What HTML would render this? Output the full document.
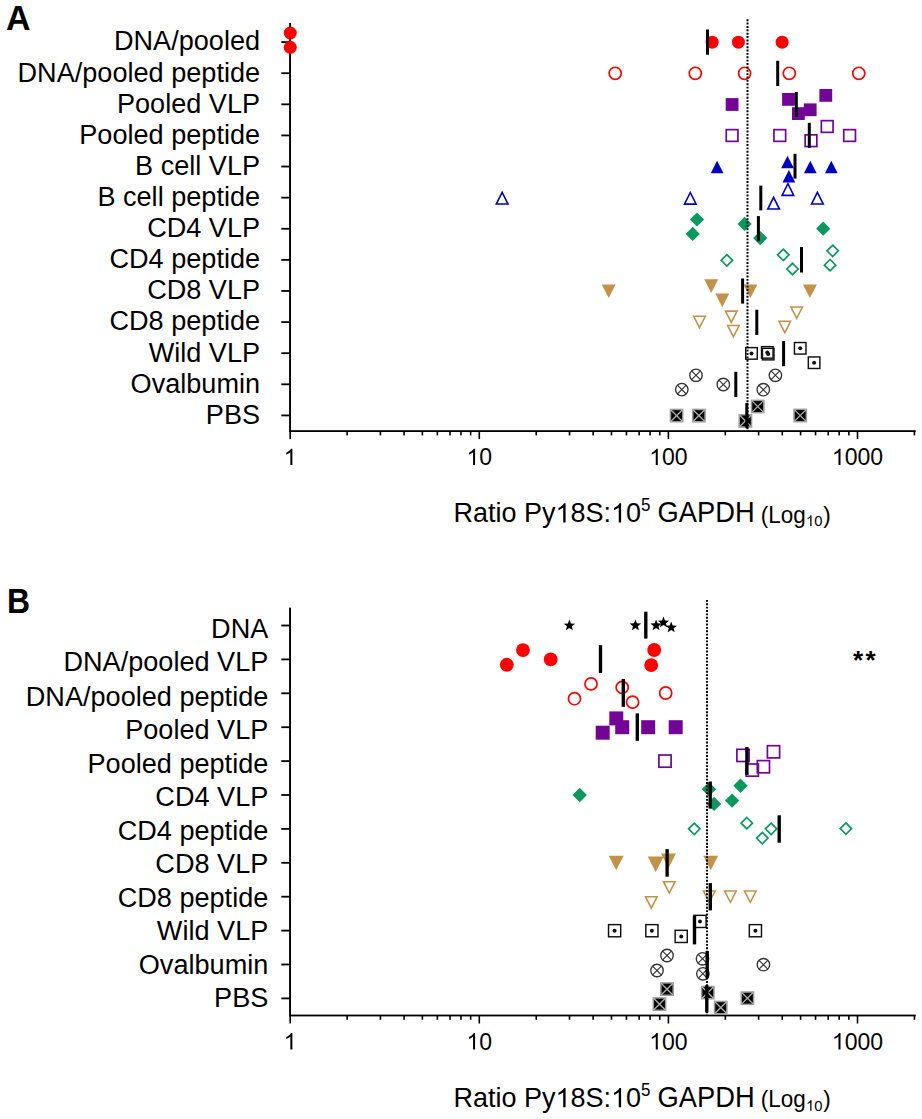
<!DOCTYPE html>
<html><head><meta charset="utf-8"><style>html,body{margin:0;padding:0;background:#fff;}svg{display:block;}text{font-family:"Liberation Sans",sans-serif;}</style></head>
<body><svg width="922" height="1119" viewBox="0 0 922 1119">
<rect width="922" height="1119" fill="#fff"/>
<text x="6" y="29.9" font-size="34" transform="matrix(1 0 0 1.035 0 -1.05)" font-weight="bold" >A</text>
<text x="6.9" y="612.9" font-size="31.9" transform="matrix(1 0 0 1.08 0 -49.03)" font-weight="bold" >B</text>
<rect x="289.1" y="22.9" width="1.9" height="409.2" fill="#000"/>
<rect x="281.3" y="41.2" width="8.9" height="1.8" fill="#000"/>
<text x="260.1" y="50.4" font-size="27.1" transform="matrix(1 0 0 1.025 0 -1.26)" text-anchor="end" >DNA/pooled</text>
<rect x="281.3" y="72.31" width="8.9" height="1.8" fill="#000"/>
<text x="260.1" y="81.52" font-size="27.1" transform="matrix(1 0 0 1.025 0 -2.04)" text-anchor="end" >DNA/pooled peptide</text>
<rect x="281.3" y="103.42" width="8.9" height="1.8" fill="#000"/>
<text x="260.1" y="112.64" font-size="27.1" transform="matrix(1 0 0 1.025 0 -2.82)" text-anchor="end" >Pooled VLP</text>
<rect x="281.3" y="134.53" width="8.9" height="1.8" fill="#000"/>
<text x="260.1" y="143.76" font-size="27.1" transform="matrix(1 0 0 1.025 0 -3.59)" text-anchor="end" >Pooled peptide</text>
<rect x="281.3" y="165.64" width="8.9" height="1.8" fill="#000"/>
<text x="260.1" y="174.88" font-size="27.1" transform="matrix(1 0 0 1.025 0 -4.37)" text-anchor="end" >B cell VLP</text>
<rect x="281.3" y="196.75" width="8.9" height="1.8" fill="#000"/>
<text x="260.1" y="206" font-size="27.1" transform="matrix(1 0 0 1.025 0 -5.15)" text-anchor="end" >B cell peptide</text>
<rect x="281.3" y="227.86" width="8.9" height="1.8" fill="#000"/>
<text x="260.1" y="237.12" font-size="27.1" transform="matrix(1 0 0 1.025 0 -5.93)" text-anchor="end" >CD4 VLP</text>
<rect x="281.3" y="258.97" width="8.9" height="1.8" fill="#000"/>
<text x="260.1" y="268.24" font-size="27.1" transform="matrix(1 0 0 1.025 0 -6.71)" text-anchor="end" >CD4 peptide</text>
<rect x="281.3" y="290.08" width="8.9" height="1.8" fill="#000"/>
<text x="260.1" y="299.36" font-size="27.1" transform="matrix(1 0 0 1.025 0 -7.48)" text-anchor="end" >CD8 VLP</text>
<rect x="281.3" y="321.19" width="8.9" height="1.8" fill="#000"/>
<text x="260.1" y="330.48" font-size="27.1" transform="matrix(1 0 0 1.025 0 -8.26)" text-anchor="end" >CD8 peptide</text>
<rect x="281.3" y="352.3" width="8.9" height="1.8" fill="#000"/>
<text x="260.1" y="361.6" font-size="27.1" transform="matrix(1 0 0 1.025 0 -9.04)" text-anchor="end" >Wild VLP</text>
<rect x="281.3" y="383.41" width="8.9" height="1.8" fill="#000"/>
<text x="260.1" y="392.72" font-size="27.1" transform="matrix(1 0 0 1.025 0 -9.82)" text-anchor="end" >Ovalbumin</text>
<rect x="281.3" y="414.52" width="8.9" height="1.8" fill="#000"/>
<text x="260.1" y="423.84" font-size="27.1" transform="matrix(1 0 0 1.025 0 -10.6)" text-anchor="end" >PBS</text>
<rect x="289.3" y="430.2" width="626.4" height="1.8" fill="#000"/>
<rect x="289.4" y="431.1" width="1.6" height="8" fill="#000"/>
<rect x="346.32" y="431.1" width="1.6" height="4.3" fill="#000"/>
<rect x="379.62" y="431.1" width="1.6" height="4.3" fill="#000"/>
<rect x="403.25" y="431.1" width="1.6" height="4.3" fill="#000"/>
<rect x="421.58" y="431.1" width="1.6" height="4.3" fill="#000"/>
<rect x="436.55" y="431.1" width="1.6" height="4.3" fill="#000"/>
<rect x="449.21" y="431.1" width="1.6" height="4.3" fill="#000"/>
<rect x="460.17" y="431.1" width="1.6" height="4.3" fill="#000"/>
<rect x="469.85" y="431.1" width="1.6" height="4.3" fill="#000"/>
<rect x="478.5" y="431.1" width="1.6" height="8" fill="#000"/>
<rect x="535.42" y="431.1" width="1.6" height="4.3" fill="#000"/>
<rect x="568.72" y="431.1" width="1.6" height="4.3" fill="#000"/>
<rect x="592.35" y="431.1" width="1.6" height="4.3" fill="#000"/>
<rect x="610.68" y="431.1" width="1.6" height="4.3" fill="#000"/>
<rect x="625.65" y="431.1" width="1.6" height="4.3" fill="#000"/>
<rect x="638.31" y="431.1" width="1.6" height="4.3" fill="#000"/>
<rect x="649.27" y="431.1" width="1.6" height="4.3" fill="#000"/>
<rect x="658.95" y="431.1" width="1.6" height="4.3" fill="#000"/>
<rect x="667.6" y="431.1" width="1.6" height="8" fill="#000"/>
<rect x="724.52" y="431.1" width="1.6" height="4.3" fill="#000"/>
<rect x="757.82" y="431.1" width="1.6" height="4.3" fill="#000"/>
<rect x="781.45" y="431.1" width="1.6" height="4.3" fill="#000"/>
<rect x="799.78" y="431.1" width="1.6" height="4.3" fill="#000"/>
<rect x="814.75" y="431.1" width="1.6" height="4.3" fill="#000"/>
<rect x="827.41" y="431.1" width="1.6" height="4.3" fill="#000"/>
<rect x="838.37" y="431.1" width="1.6" height="4.3" fill="#000"/>
<rect x="848.05" y="431.1" width="1.6" height="4.3" fill="#000"/>
<rect x="856.7" y="431.1" width="1.6" height="8" fill="#000"/>
<rect x="913.62" y="431.1" width="1.6" height="4.3" fill="#000"/>
<text x="283.8" y="465.1" font-size="23.0" > </text>
<path transform="translate(283.8 465.1) scale(0.01123 -0.01123)" d="M763 0L583 0L583 1147C540 1106 483 1064 413 1023C343 982 280 951 223 930L223 1104C323 1151 411 1208 486 1276C561 1344 614 1407 645 1466L763 1466Z" fill="#000"/>
<text x="466.51" y="465.1" font-size="23.0" > 0</text>
<path transform="translate(466.51 465.1) scale(0.01123 -0.01123)" d="M763 0L583 0L583 1147C540 1106 483 1064 413 1023C343 982 280 951 223 930L223 1104C323 1151 411 1208 486 1276C561 1344 614 1407 645 1466L763 1466Z" fill="#000"/>
<text x="649.21" y="465.1" font-size="23.0" > 00</text>
<path transform="translate(649.21 465.1) scale(0.01123 -0.01123)" d="M763 0L583 0L583 1147C540 1106 483 1064 413 1023C343 982 280 951 223 930L223 1104C323 1151 411 1208 486 1276C561 1344 614 1407 645 1466L763 1466Z" fill="#000"/>
<text x="831.92" y="465.1" font-size="23.0" > 000</text>
<path transform="translate(831.92 465.1) scale(0.01123 -0.01123)" d="M763 0L583 0L583 1147C540 1106 483 1064 413 1023C343 982 280 951 223 930L223 1104C323 1151 411 1208 486 1276C561 1344 614 1407 645 1466L763 1466Z" fill="#000"/>
<text x="453.5" y="522.5" font-size="27.0" transform="matrix(1 0 0 1.05 0 -26.13)"  >Ratio Py 8S: 0</text>
<path transform="translate(555.53 522.5) scale(0.01318 -0.01318)" d="M763 0L583 0L583 1147C540 1106 483 1064 413 1023C343 982 280 951 223 930L223 1104C323 1151 411 1208 486 1276C561 1344 614 1407 645 1466L763 1466Z" fill="#000"/>
<path transform="translate(611.06 522.5) scale(0.01318 -0.01318)" d="M763 0L583 0L583 1147C540 1106 483 1064 413 1023C343 982 280 951 223 930L223 1104C323 1151 411 1208 486 1276C561 1344 614 1407 645 1466L763 1466Z" fill="#000"/>
<text x="641" y="511.1" font-size="17" transform="matrix(1 0 0 1.04 0 -20.44)"  >5</text>
<text x="657.6" y="522.5" font-size="27.3" transform="matrix(1 0 0 1.05 0 -26.13)"  >GAPDH</text>
<text x="760.8" y="522.7" font-size="22.5" transform="matrix(1 0 0 1.04 0 -20.91)"  >(Log</text>
<text x="806" y="525.9" font-size="14.8" > 0</text>
<path transform="translate(806 525.9) scale(0.00723 -0.00723)" d="M763 0L583 0L583 1147C540 1106 483 1064 413 1023C343 982 280 951 223 930L223 1104C323 1151 411 1208 486 1276C561 1344 614 1407 645 1466L763 1466Z" fill="#000"/>
<text x="823.2" y="522.7" font-size="22.5" transform="matrix(1 0 0 1.04 0 -20.91)"  >)</text>
<rect x="289.1" y="607.6" width="1.9" height="408.9" fill="#000"/>
<rect x="281.3" y="624.6" width="8.9" height="1.8" fill="#000"/>
<text x="268.3" y="637.6" font-size="27.1" transform="matrix(1 0 0 1.025 0 -15.94)" text-anchor="end" >DNA</text>
<rect x="281.3" y="658.5" width="8.9" height="1.8" fill="#000"/>
<text x="268.3" y="671.5" font-size="27.1" transform="matrix(1 0 0 1.025 0 -16.79)" text-anchor="end" >DNA/pooled VLP</text>
<rect x="281.3" y="692.4" width="8.9" height="1.8" fill="#000"/>
<text x="268.3" y="705.8" font-size="27.1" transform="matrix(1 0 0 1.025 0 -17.64)" text-anchor="end" >DNA/pooled peptide</text>
<rect x="281.3" y="726.3" width="8.9" height="1.8" fill="#000"/>
<text x="268.3" y="739.3" font-size="27.1" transform="matrix(1 0 0 1.025 0 -18.48)" text-anchor="end" >Pooled VLP</text>
<rect x="281.3" y="760.2" width="8.9" height="1.8" fill="#000"/>
<text x="268.3" y="772.8" font-size="27.1" transform="matrix(1 0 0 1.025 0 -19.32)" text-anchor="end" >Pooled peptide</text>
<rect x="281.3" y="794.1" width="8.9" height="1.8" fill="#000"/>
<text x="268.3" y="806.5" font-size="27.1" transform="matrix(1 0 0 1.025 0 -20.16)" text-anchor="end" >CD4 VLP</text>
<rect x="281.3" y="828" width="8.9" height="1.8" fill="#000"/>
<text x="268.3" y="839.6" font-size="27.1" transform="matrix(1 0 0 1.025 0 -20.99)" text-anchor="end" >CD4 peptide</text>
<rect x="281.3" y="861.9" width="8.9" height="1.8" fill="#000"/>
<text x="268.3" y="873" font-size="27.1" transform="matrix(1 0 0 1.025 0 -21.82)" text-anchor="end" >CD8 VLP</text>
<rect x="281.3" y="895.8" width="8.9" height="1.8" fill="#000"/>
<text x="268.3" y="906.9" font-size="27.1" transform="matrix(1 0 0 1.025 0 -22.67)" text-anchor="end" >CD8 peptide</text>
<rect x="281.3" y="929.7" width="8.9" height="1.8" fill="#000"/>
<text x="268.3" y="940" font-size="27.1" transform="matrix(1 0 0 1.025 0 -23.5)" text-anchor="end" >Wild VLP</text>
<rect x="281.3" y="963.6" width="8.9" height="1.8" fill="#000"/>
<text x="268.3" y="973.7" font-size="27.1" transform="matrix(1 0 0 1.025 0 -24.34)" text-anchor="end" >Ovalbumin</text>
<rect x="281.3" y="997.5" width="8.9" height="1.8" fill="#000"/>
<text x="268.3" y="1006.7" font-size="27.1" transform="matrix(1 0 0 1.025 0 -25.17)" text-anchor="end" >PBS</text>
<rect x="289.3" y="1014.6" width="626.4" height="1.8" fill="#000"/>
<rect x="289.4" y="1015.5" width="1.6" height="8" fill="#000"/>
<rect x="346.32" y="1015.5" width="1.6" height="4.3" fill="#000"/>
<rect x="379.62" y="1015.5" width="1.6" height="4.3" fill="#000"/>
<rect x="403.25" y="1015.5" width="1.6" height="4.3" fill="#000"/>
<rect x="421.58" y="1015.5" width="1.6" height="4.3" fill="#000"/>
<rect x="436.55" y="1015.5" width="1.6" height="4.3" fill="#000"/>
<rect x="449.21" y="1015.5" width="1.6" height="4.3" fill="#000"/>
<rect x="460.17" y="1015.5" width="1.6" height="4.3" fill="#000"/>
<rect x="469.85" y="1015.5" width="1.6" height="4.3" fill="#000"/>
<rect x="478.5" y="1015.5" width="1.6" height="8" fill="#000"/>
<rect x="535.42" y="1015.5" width="1.6" height="4.3" fill="#000"/>
<rect x="568.72" y="1015.5" width="1.6" height="4.3" fill="#000"/>
<rect x="592.35" y="1015.5" width="1.6" height="4.3" fill="#000"/>
<rect x="610.68" y="1015.5" width="1.6" height="4.3" fill="#000"/>
<rect x="625.65" y="1015.5" width="1.6" height="4.3" fill="#000"/>
<rect x="638.31" y="1015.5" width="1.6" height="4.3" fill="#000"/>
<rect x="649.27" y="1015.5" width="1.6" height="4.3" fill="#000"/>
<rect x="658.95" y="1015.5" width="1.6" height="4.3" fill="#000"/>
<rect x="667.6" y="1015.5" width="1.6" height="8" fill="#000"/>
<rect x="724.52" y="1015.5" width="1.6" height="4.3" fill="#000"/>
<rect x="757.82" y="1015.5" width="1.6" height="4.3" fill="#000"/>
<rect x="781.45" y="1015.5" width="1.6" height="4.3" fill="#000"/>
<rect x="799.78" y="1015.5" width="1.6" height="4.3" fill="#000"/>
<rect x="814.75" y="1015.5" width="1.6" height="4.3" fill="#000"/>
<rect x="827.41" y="1015.5" width="1.6" height="4.3" fill="#000"/>
<rect x="838.37" y="1015.5" width="1.6" height="4.3" fill="#000"/>
<rect x="848.05" y="1015.5" width="1.6" height="4.3" fill="#000"/>
<rect x="856.7" y="1015.5" width="1.6" height="8" fill="#000"/>
<rect x="913.62" y="1015.5" width="1.6" height="4.3" fill="#000"/>
<text x="283.8" y="1049.5" font-size="23.0" > </text>
<path transform="translate(283.8 1049.5) scale(0.01123 -0.01123)" d="M763 0L583 0L583 1147C540 1106 483 1064 413 1023C343 982 280 951 223 930L223 1104C323 1151 411 1208 486 1276C561 1344 614 1407 645 1466L763 1466Z" fill="#000"/>
<text x="466.51" y="1049.5" font-size="23.0" > 0</text>
<path transform="translate(466.51 1049.5) scale(0.01123 -0.01123)" d="M763 0L583 0L583 1147C540 1106 483 1064 413 1023C343 982 280 951 223 930L223 1104C323 1151 411 1208 486 1276C561 1344 614 1407 645 1466L763 1466Z" fill="#000"/>
<text x="649.21" y="1049.5" font-size="23.0" > 00</text>
<path transform="translate(649.21 1049.5) scale(0.01123 -0.01123)" d="M763 0L583 0L583 1147C540 1106 483 1064 413 1023C343 982 280 951 223 930L223 1104C323 1151 411 1208 486 1276C561 1344 614 1407 645 1466L763 1466Z" fill="#000"/>
<text x="831.92" y="1049.5" font-size="23.0" > 000</text>
<path transform="translate(831.92 1049.5) scale(0.01123 -0.01123)" d="M763 0L583 0L583 1147C540 1106 483 1064 413 1023C343 982 280 951 223 930L223 1104C323 1151 411 1208 486 1276C561 1344 614 1407 645 1466L763 1466Z" fill="#000"/>
<text x="453.5" y="1107.3" font-size="27.0" transform="matrix(1 0 0 1.05 0 -55.37)"  >Ratio Py 8S: 0</text>
<path transform="translate(555.53 1107.3) scale(0.01318 -0.01318)" d="M763 0L583 0L583 1147C540 1106 483 1064 413 1023C343 982 280 951 223 930L223 1104C323 1151 411 1208 486 1276C561 1344 614 1407 645 1466L763 1466Z" fill="#000"/>
<path transform="translate(611.06 1107.3) scale(0.01318 -0.01318)" d="M763 0L583 0L583 1147C540 1106 483 1064 413 1023C343 982 280 951 223 930L223 1104C323 1151 411 1208 486 1276C561 1344 614 1407 645 1466L763 1466Z" fill="#000"/>
<text x="641" y="1095.9" font-size="17" transform="matrix(1 0 0 1.04 0 -43.84)"  >5</text>
<text x="657.6" y="1107.3" font-size="27.3" transform="matrix(1 0 0 1.05 0 -55.37)"  >GAPDH</text>
<text x="760.8" y="1107.5" font-size="22.5" transform="matrix(1 0 0 1.04 0 -44.3)"  >(Log</text>
<text x="806" y="1110.7" font-size="14.8" > 0</text>
<path transform="translate(806 1110.7) scale(0.00723 -0.00723)" d="M763 0L583 0L583 1147C540 1106 483 1064 413 1023C343 982 280 951 223 930L223 1104C323 1151 411 1208 486 1276C561 1344 614 1407 645 1466L763 1466Z" fill="#000"/>
<text x="823.2" y="1107.5" font-size="22.5" transform="matrix(1 0 0 1.04 0 -44.3)"  >)</text>
<circle cx="290.25" cy="33" r="6.5" fill="#ff0000"/>
<circle cx="290.25" cy="47.3" r="6.5" fill="#ff0000"/>
<circle cx="712.2" cy="42.2" r="6.5" fill="#ff0000"/>
<circle cx="738.4" cy="42.2" r="6.5" fill="#ff0000"/>
<circle cx="782.1" cy="42.2" r="6.5" fill="#ff0000"/>
<circle cx="615.2" cy="73.3" r="6.05" fill="none" stroke="#ff0000" stroke-width="1.7"/>
<circle cx="695.3" cy="73.3" r="6.05" fill="none" stroke="#ff0000" stroke-width="1.7"/>
<circle cx="744.6" cy="73.3" r="6.05" fill="none" stroke="#ff0000" stroke-width="1.7"/>
<circle cx="789.3" cy="73.3" r="6.05" fill="none" stroke="#ff0000" stroke-width="1.7"/>
<circle cx="858.8" cy="73.3" r="6.05" fill="none" stroke="#ff0000" stroke-width="1.7"/>
<rect x="725.7" y="98.1" width="12.8" height="12.8" fill="#730596"/>
<rect x="782.1" y="93" width="12.8" height="12.8" fill="#730596"/>
<rect x="792" y="107.2" width="12.8" height="12.8" fill="#730596"/>
<rect x="803.8" y="103.4" width="12.8" height="12.8" fill="#730596"/>
<rect x="819.4" y="89" width="12.8" height="12.8" fill="#730596"/>
<rect x="726.25" y="129.65" width="11.7" height="11.7" fill="none" stroke="#730596" stroke-width="1.7"/>
<rect x="773.95" y="129.65" width="11.7" height="11.7" fill="none" stroke="#730596" stroke-width="1.7"/>
<rect x="805.15" y="134.85" width="11.7" height="11.7" fill="none" stroke="#730596" stroke-width="1.7"/>
<rect x="821.35" y="120.65" width="11.7" height="11.7" fill="none" stroke="#730596" stroke-width="1.7"/>
<rect x="843.75" y="129.65" width="11.7" height="11.7" fill="none" stroke="#730596" stroke-width="1.7"/>
<polygon points="717.1,160.8 723.5,173.2 710.7,173.2" fill="#0000c0"/>
<polygon points="787.5,155.8 793.9,168.2 781.1,168.2" fill="#0000c0"/>
<polygon points="788.9,170.1 795.3,182.5 782.5,182.5" fill="#0000c0"/>
<polygon points="810.3,160.8 816.7,173.2 803.9,173.2" fill="#0000c0"/>
<polygon points="831.3,160.8 837.7,173.2 824.9,173.2" fill="#0000c0"/>
<polygon points="502.15,192.29 507.98,203.95 496.32,203.95" fill="none" stroke="#0000c0" stroke-width="1.6" stroke-linejoin="miter"/>
<polygon points="690.3,192.49 696.13,204.15 684.47,204.15" fill="none" stroke="#0000c0" stroke-width="1.6" stroke-linejoin="miter"/>
<polygon points="773.6,197.39 779.43,209.05 767.77,209.05" fill="none" stroke="#0000c0" stroke-width="1.6" stroke-linejoin="miter"/>
<polygon points="787.9,183.69 793.73,195.35 782.07,195.35" fill="none" stroke="#0000c0" stroke-width="1.6" stroke-linejoin="miter"/>
<polygon points="817.4,192.29 823.23,203.95 811.57,203.95" fill="none" stroke="#0000c0" stroke-width="1.6" stroke-linejoin="miter"/>
<polygon points="697,212.4 704.1,219.5 697,226.6 689.9,219.5" fill="#0a985e"/>
<polygon points="692.7,226.8 699.8,233.9 692.7,241 685.6,233.9" fill="#0a985e"/>
<polygon points="744.6,216.8 751.7,223.9 744.6,231 737.5,223.9" fill="#0a985e"/>
<polygon points="760.2,231 767.3,238.1 760.2,245.2 753.1,238.1" fill="#0a985e"/>
<polygon points="823.2,221.6 830.3,228.7 823.2,235.8 816.1,228.7" fill="#0a985e"/>
<polygon points="726.9,254.62 732.58,260.3 726.9,265.98 721.22,260.3" fill="none" stroke="#0a985e" stroke-width="1.7"/>
<polygon points="783.3,249.12 788.98,254.8 783.3,260.48 777.62,254.8" fill="none" stroke="#0a985e" stroke-width="1.7"/>
<polygon points="792.5,263.32 798.18,269 792.5,274.68 786.82,269" fill="none" stroke="#0a985e" stroke-width="1.7"/>
<polygon points="832.7,245.12 838.38,250.8 832.7,256.48 827.02,250.8" fill="none" stroke="#0a985e" stroke-width="1.7"/>
<polygon points="830.1,259.52 835.78,265.2 830.1,270.88 824.42,265.2" fill="none" stroke="#0a985e" stroke-width="1.7"/>
<polygon points="601.7,284.4 615.7,284.4 608.7,298" fill="#c3924a"/>
<polygon points="704.2,279.3 718.2,279.3 711.2,292.9" fill="#c3924a"/>
<polygon points="715.3,293.6 729.3,293.6 722.3,307.2" fill="#c3924a"/>
<polygon points="743.4,284.5 757.4,284.5 750.4,298.1" fill="#c3924a"/>
<polygon points="802.9,284.5 816.9,284.5 809.9,298.1" fill="#c3924a"/>
<polygon points="693.72,316.3 705.28,316.3 699.5,327.66" fill="none" stroke="#c3924a" stroke-width="1.6" stroke-linejoin="miter"/>
<polygon points="725.52,311.1 737.08,311.1 731.3,322.46" fill="none" stroke="#c3924a" stroke-width="1.6" stroke-linejoin="miter"/>
<polygon points="727.62,325.5 739.18,325.5 733.4,336.86" fill="none" stroke="#c3924a" stroke-width="1.6" stroke-linejoin="miter"/>
<polygon points="790.92,307 802.48,307 796.7,318.36" fill="none" stroke="#c3924a" stroke-width="1.6" stroke-linejoin="miter"/>
<polygon points="779.02,321.3 790.58,321.3 784.8,332.66" fill="none" stroke="#c3924a" stroke-width="1.6" stroke-linejoin="miter"/>
<rect x="745.73" y="347.62" width="11.55" height="11.55" fill="none" stroke="#111" stroke-width="1.45"/>
<circle cx="751.5" cy="353.4" r="2" fill="#111"/>
<rect x="761.52" y="346.62" width="11.55" height="11.55" fill="none" stroke="#111" stroke-width="1.45"/>
<circle cx="767.3" cy="352.4" r="2" fill="#111"/>
<rect x="762.43" y="348.33" width="11.55" height="11.55" fill="none" stroke="#111" stroke-width="1.45"/>
<circle cx="768.2" cy="354.1" r="2" fill="#111"/>
<rect x="794.43" y="342.53" width="11.55" height="11.55" fill="none" stroke="#111" stroke-width="1.45"/>
<circle cx="800.2" cy="348.3" r="2" fill="#111"/>
<rect x="808.33" y="356.93" width="11.55" height="11.55" fill="none" stroke="#111" stroke-width="1.45"/>
<circle cx="814.1" cy="362.7" r="2" fill="#111"/>
<circle cx="696" cy="375.3" r="6.23" fill="none" stroke="#333" stroke-width="1.35"/>
<path d="M691.6 370.9L700.4 379.7M700.4 370.9L691.6 379.7" stroke="#333" stroke-width="1.15"/>
<circle cx="681.8" cy="389.6" r="6.23" fill="none" stroke="#333" stroke-width="1.35"/>
<path d="M677.4 385.2L686.2 394M686.2 385.2L677.4 394" stroke="#333" stroke-width="1.15"/>
<circle cx="723.3" cy="384.5" r="6.23" fill="none" stroke="#333" stroke-width="1.35"/>
<path d="M718.9 380.1L727.7 388.9M727.7 380.1L718.9 388.9" stroke="#333" stroke-width="1.15"/>
<circle cx="775.4" cy="375.3" r="6.23" fill="none" stroke="#333" stroke-width="1.35"/>
<path d="M771 370.9L779.8 379.7M779.8 370.9L771 379.7" stroke="#333" stroke-width="1.15"/>
<circle cx="763.3" cy="389.7" r="6.23" fill="none" stroke="#333" stroke-width="1.35"/>
<path d="M758.9 385.3L767.7 394.1M767.7 385.3L758.9 394.1" stroke="#333" stroke-width="1.15"/>
<rect x="670.45" y="409.45" width="12.3" height="12.3" fill="#000" stroke="#9a9a9a" stroke-width="1.5"/>
<path d="M670.45 409.45L682.75 421.75M682.75 409.45L670.45 421.75" stroke="#b0b0b0" stroke-width="1.3"/>
<rect x="692.75" y="409.45" width="12.3" height="12.3" fill="#000" stroke="#9a9a9a" stroke-width="1.5"/>
<path d="M692.75 409.45L705.05 421.75M705.05 409.45L692.75 421.75" stroke="#b0b0b0" stroke-width="1.3"/>
<rect x="739.25" y="414.75" width="12.3" height="12.3" fill="#000" stroke="#9a9a9a" stroke-width="1.5"/>
<path d="M739.25 414.75L751.55 427.05M751.55 414.75L739.25 427.05" stroke="#b0b0b0" stroke-width="1.3"/>
<rect x="751.55" y="400.35" width="12.3" height="12.3" fill="#000" stroke="#9a9a9a" stroke-width="1.5"/>
<path d="M751.55 400.35L763.85 412.65M763.85 400.35L751.55 412.65" stroke="#b0b0b0" stroke-width="1.3"/>
<rect x="794.05" y="409.35" width="12.3" height="12.3" fill="#000" stroke="#9a9a9a" stroke-width="1.5"/>
<path d="M794.05 409.35L806.35 421.65M806.35 409.35L794.05 421.65" stroke="#b0b0b0" stroke-width="1.3"/>
<polygon points="569.4,619.48 570.88,623.44 575.11,623.63 571.8,626.26 572.93,630.33 569.4,628 565.87,630.33 567,626.26 563.69,623.63 567.92,623.44" fill="#000"/>
<polygon points="635.4,619.38 636.88,623.34 641.11,623.53 637.8,626.16 638.93,630.23 635.4,627.9 631.87,630.23 633,626.16 629.69,623.53 633.92,623.34" fill="#000"/>
<polygon points="656.1,619.38 657.58,623.34 661.81,623.53 658.5,626.16 659.63,630.23 656.1,627.9 652.57,630.23 653.7,626.16 650.39,623.53 654.62,623.34" fill="#000"/>
<polygon points="663.5,616.48 664.98,620.44 669.21,620.63 665.9,623.26 667.03,627.33 663.5,625 659.97,627.33 661.1,623.26 657.79,620.63 662.02,620.44" fill="#000"/>
<polygon points="671.2,621.48 672.68,625.44 676.91,625.63 673.6,628.26 674.73,632.33 671.2,630 667.67,632.33 668.8,628.26 665.49,625.63 669.72,625.44" fill="#000"/>
<circle cx="506.8" cy="664.8" r="6.95" fill="#ff0000"/>
<circle cx="523" cy="650.1" r="6.95" fill="#ff0000"/>
<circle cx="550.7" cy="659.4" r="6.95" fill="#ff0000"/>
<circle cx="654.2" cy="650" r="6.95" fill="#ff0000"/>
<circle cx="651.2" cy="665.1" r="6.95" fill="#ff0000"/>
<circle cx="574.5" cy="698.7" r="6.05" fill="none" stroke="#ff0000" stroke-width="1.7"/>
<circle cx="591" cy="683.9" r="6.05" fill="none" stroke="#ff0000" stroke-width="1.7"/>
<circle cx="622.2" cy="687.4" r="6.05" fill="none" stroke="#ff0000" stroke-width="1.7"/>
<circle cx="632.6" cy="702.1" r="6.05" fill="none" stroke="#ff0000" stroke-width="1.7"/>
<circle cx="665.7" cy="693" r="6.05" fill="none" stroke="#ff0000" stroke-width="1.7"/>
<rect x="595.7" y="725.7" width="14" height="14" fill="#730596"/>
<rect x="609.3" y="711.4" width="14" height="14" fill="#730596"/>
<rect x="615.2" y="720.2" width="14" height="14" fill="#730596"/>
<rect x="641.2" y="720.2" width="14" height="14" fill="#730596"/>
<rect x="668.7" y="720.2" width="14" height="14" fill="#730596"/>
<rect x="658.9" y="755" width="12.2" height="12.2" fill="none" stroke="#730596" stroke-width="1.7"/>
<rect x="736.9" y="749.3" width="12.2" height="12.2" fill="none" stroke="#730596" stroke-width="1.7"/>
<rect x="746.2" y="764" width="12.2" height="12.2" fill="none" stroke="#730596" stroke-width="1.7"/>
<rect x="757.3" y="760.6" width="12.2" height="12.2" fill="none" stroke="#730596" stroke-width="1.7"/>
<rect x="767.4" y="745.7" width="12.2" height="12.2" fill="none" stroke="#730596" stroke-width="1.7"/>
<polygon points="579.7,787.8 586.9,795 579.7,802.2 572.5,795" fill="#0a985e"/>
<polygon points="708.9,782.1 716.1,789.3 708.9,796.5 701.7,789.3" fill="#0a985e"/>
<polygon points="714.1,796.7 721.3,803.9 714.1,811.1 706.9,803.9" fill="#0a985e"/>
<polygon points="732.1,793.4 739.3,800.6 732.1,807.8 724.9,800.6" fill="#0a985e"/>
<polygon points="740.5,778.6 747.7,785.8 740.5,793 733.3,785.8" fill="#0a985e"/>
<polygon points="694.3,823.12 699.98,828.8 694.3,834.48 688.62,828.8" fill="none" stroke="#0a985e" stroke-width="1.7"/>
<polygon points="746.8,817.52 752.48,823.2 746.8,828.88 741.12,823.2" fill="none" stroke="#0a985e" stroke-width="1.7"/>
<polygon points="762.3,832.42 767.98,838.1 762.3,843.78 756.62,838.1" fill="none" stroke="#0a985e" stroke-width="1.7"/>
<polygon points="771.1,823.12 776.78,828.8 771.1,834.48 765.42,828.8" fill="none" stroke="#0a985e" stroke-width="1.7"/>
<polygon points="845.9,822.92 851.58,828.6 845.9,834.28 840.22,828.6" fill="none" stroke="#0a985e" stroke-width="1.7"/>
<polygon points="608.7,855.75 623.7,855.75 616.2,870.25" fill="#c3924a"/>
<polygon points="647.7,856.4 663.7,856.4 655.7,872" fill="#c3924a"/>
<polygon points="661,853.55 676,853.55 668.5,868.05" fill="#c3924a"/>
<polygon points="703.2,855.75 718.2,855.75 710.7,870.25" fill="#c3924a"/>
<polygon points="645.52,896.8 657.08,896.8 651.3,908.16" fill="none" stroke="#c3924a" stroke-width="1.6" stroke-linejoin="miter"/>
<polygon points="663.52,881.7 675.08,881.7 669.3,893.06" fill="none" stroke="#c3924a" stroke-width="1.6" stroke-linejoin="miter"/>
<polygon points="703.52,891 715.08,891 709.3,902.36" fill="none" stroke="#c3924a" stroke-width="1.6" stroke-linejoin="miter"/>
<polygon points="724.62,891 736.18,891 730.4,902.36" fill="none" stroke="#c3924a" stroke-width="1.6" stroke-linejoin="miter"/>
<polygon points="744.52,891 756.08,891 750.3,902.36" fill="none" stroke="#c3924a" stroke-width="1.6" stroke-linejoin="miter"/>
<rect x="608.53" y="924.63" width="12.15" height="12.15" fill="none" stroke="#111" stroke-width="1.45"/>
<circle cx="614.6" cy="930.7" r="2" fill="#111"/>
<rect x="645.83" y="924.63" width="12.15" height="12.15" fill="none" stroke="#111" stroke-width="1.45"/>
<circle cx="651.9" cy="930.7" r="2" fill="#111"/>
<rect x="675.13" y="930.33" width="12.15" height="12.15" fill="none" stroke="#111" stroke-width="1.45"/>
<circle cx="681.2" cy="936.4" r="2" fill="#111"/>
<rect x="693.93" y="915.33" width="12.15" height="12.15" fill="none" stroke="#111" stroke-width="1.45"/>
<circle cx="700" cy="921.4" r="2" fill="#111"/>
<rect x="749.33" y="924.63" width="12.15" height="12.15" fill="none" stroke="#111" stroke-width="1.45"/>
<circle cx="755.4" cy="930.7" r="2" fill="#111"/>
<circle cx="667" cy="955.5" r="6.23" fill="none" stroke="#333" stroke-width="1.35"/>
<path d="M662.6 951.1L671.4 959.9M671.4 951.1L662.6 959.9" stroke="#333" stroke-width="1.15"/>
<circle cx="657" cy="970.5" r="6.23" fill="none" stroke="#333" stroke-width="1.35"/>
<path d="M652.6 966.1L661.4 974.9M661.4 966.1L652.6 974.9" stroke="#333" stroke-width="1.15"/>
<circle cx="702.5" cy="958.8" r="6.23" fill="none" stroke="#333" stroke-width="1.35"/>
<path d="M698.1 954.4L706.9 963.2M706.9 954.4L698.1 963.2" stroke="#333" stroke-width="1.15"/>
<circle cx="702.9" cy="973.8" r="6.23" fill="none" stroke="#333" stroke-width="1.35"/>
<path d="M698.5 969.4L707.3 978.2M707.3 969.4L698.5 978.2" stroke="#333" stroke-width="1.15"/>
<circle cx="763.4" cy="964.7" r="6.23" fill="none" stroke="#333" stroke-width="1.35"/>
<path d="M759 960.3L767.8 969.1M767.8 960.3L759 969.1" stroke="#333" stroke-width="1.15"/>
<rect x="660.85" y="982.95" width="12.3" height="12.3" fill="#000" stroke="#9a9a9a" stroke-width="1.5"/>
<path d="M660.85 982.95L673.15 995.25M673.15 982.95L660.85 995.25" stroke="#b0b0b0" stroke-width="1.3"/>
<rect x="653.35" y="997.95" width="12.3" height="12.3" fill="#000" stroke="#9a9a9a" stroke-width="1.5"/>
<path d="M653.35 997.95L665.65 1010.25M665.65 997.95L653.35 1010.25" stroke="#b0b0b0" stroke-width="1.3"/>
<rect x="701.65" y="986.45" width="12.3" height="12.3" fill="#000" stroke="#9a9a9a" stroke-width="1.5"/>
<path d="M701.65 986.45L713.95 998.75M713.95 986.45L701.65 998.75" stroke="#b0b0b0" stroke-width="1.3"/>
<rect x="714.55" y="1001.45" width="12.3" height="12.3" fill="#000" stroke="#9a9a9a" stroke-width="1.5"/>
<path d="M714.55 1001.45L726.85 1013.75M726.85 1001.45L714.55 1013.75" stroke="#b0b0b0" stroke-width="1.3"/>
<rect x="741.25" y="992.05" width="12.3" height="12.3" fill="#000" stroke="#9a9a9a" stroke-width="1.5"/>
<path d="M741.25 992.05L753.55 1004.35M753.55 992.05L741.25 1004.35" stroke="#b0b0b0" stroke-width="1.3"/>
<text x="852.9" y="669.4" font-size="26.2" font-weight="bold" letter-spacing="2.4" >**</text>
<line x1="747.5" y1="19.25" x2="747.5" y2="431.1" stroke="#000" stroke-width="2" stroke-dasharray="1.9 1.472"/>
<line x1="707" y1="599.95" x2="707" y2="1015.5" stroke="#000" stroke-width="2" stroke-dasharray="1.9 1.472"/>
<rect x="706" y="29.5" width="3" height="25.2" fill="#000"/>
<rect x="776.2" y="60.8" width="3" height="25.2" fill="#000"/>
<rect x="794.8" y="92" width="3" height="25" fill="#000"/>
<rect x="807.8" y="122.8" width="3" height="25" fill="#000"/>
<rect x="793.5" y="153.8" width="3" height="24.8" fill="#000"/>
<rect x="759.3" y="185.6" width="3" height="24.8" fill="#000"/>
<rect x="756.9" y="216.1" width="3" height="25.1" fill="#000"/>
<rect x="800" y="247" width="3" height="25.5" fill="#000"/>
<rect x="741.1" y="278.5" width="3" height="25.1" fill="#000"/>
<rect x="755.3" y="309.7" width="3" height="25.2" fill="#000"/>
<rect x="782.1" y="341.1" width="3" height="25.1" fill="#000"/>
<rect x="734.3" y="371.8" width="3" height="25.3" fill="#000"/>
<rect x="745.3" y="403" width="3" height="25.2" fill="#000"/>
<rect x="644.12" y="611.7" width="3.35" height="26.9" fill="#000"/>
<rect x="598.83" y="645.2" width="3.35" height="27.8" fill="#000"/>
<rect x="621.62" y="679" width="3.35" height="27.8" fill="#000"/>
<rect x="635.62" y="713.4" width="3.35" height="27.4" fill="#000"/>
<rect x="745.23" y="747.1" width="3.35" height="27.8" fill="#000"/>
<rect x="708.53" y="781.5" width="3.35" height="27.1" fill="#000"/>
<rect x="777.53" y="815.3" width="3.35" height="27.4" fill="#000"/>
<rect x="665.43" y="849.1" width="3.35" height="27.6" fill="#000"/>
<rect x="708.62" y="883.1" width="3.35" height="27.3" fill="#000"/>
<rect x="692.83" y="916" width="3.35" height="28.4" fill="#000"/>
<rect x="705.53" y="951" width="3.35" height="27.3" fill="#000"/>
<rect x="705.12" y="985.2" width="3.35" height="27.3" fill="#000"/>
</svg></body></html>
